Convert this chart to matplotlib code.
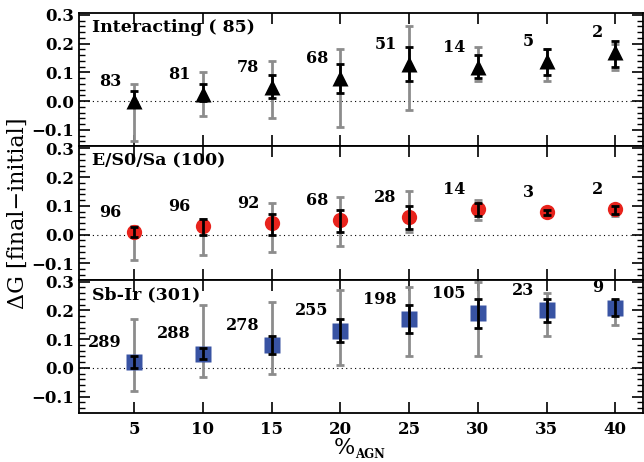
import numpy as np
import matplotlib
matplotlib.use("Agg")
import matplotlib.pyplot as plt
from matplotlib.ticker import MultipleLocator

# %AGN bins
agn = [5, 10, 15, 20, 25, 30, 35, 40]

# Interacting
int_mean = [0.00, 0.025, 0.05, 0.08, 0.13, 0.12, 0.14, 0.17]
int_blo = [-0.01, 0.00, 0.01, 0.03, 0.07, 0.08, 0.09, 0.12]
int_bhi = [0.035, 0.06, 0.09, 0.13, 0.19, 0.16, 0.18, 0.21]
int_glo = [-0.14, -0.05, -0.06, -0.09, -0.03, 0.07, 0.07, 0.11]
int_ghi = [0.06, 0.10, 0.14, 0.18, 0.26, 0.19, 0.18, 0.20]
int_n = [83, 81, 78, 68, 51, 14, 5, 2]

# E/S0/Sa
ear_mean = [0.01, 0.03, 0.04, 0.05, 0.06, 0.09, 0.08, 0.09]
ear_blo = [-0.01, 0.00, 0.00, 0.01, 0.02, 0.065, 0.068, 0.07]
ear_bhi = [0.025, 0.055, 0.07, 0.085, 0.10, 0.11, 0.086, 0.10]
ear_glo = [-0.09, -0.07, -0.06, -0.04, 0.01, 0.05, 0.068, 0.065]
ear_ghi = [0.03, 0.055, 0.11, 0.13, 0.15, 0.12, 0.088, 0.10]
ear_n = [96, 96, 92, 68, 28, 14, 3, 2]

# Sb-Ir
late_mean = [0.02, 0.05, 0.08, 0.13, 0.17, 0.19, 0.20, 0.21]
late_blo = [0.00, 0.03, 0.05, 0.09, 0.12, 0.14, 0.16, 0.18]
late_bhi = [0.04, 0.07, 0.11, 0.17, 0.22, 0.24, 0.24, 0.24]
late_glo = [-0.08, -0.03, -0.02, 0.01, 0.04, 0.04, 0.11, 0.15]
late_ghi = [0.17, 0.22, 0.23, 0.27, 0.28, 0.30, 0.26, 0.235]
late_n = [289, 288, 278, 255, 198, 105, 23, 9]

titles = ["Interacting ( 85)", "E/S0/Sa (100)", "Sb-Ir (301)"]

plt.rcParams['font.family'] = 'DejaVu Serif'

fig, axes = plt.subplots(3, 1, figsize=(6.44, 4.62), dpi=100, sharex=True)
fig.subplots_adjust(left=0.123, right=0.998, top=0.972, bottom=0.106, hspace=0)

panels = [
    (int_mean, int_blo, int_bhi, int_glo, int_ghi, int_n, dict(marker='^', color='black', ms=11)),
    (ear_mean, ear_blo, ear_bhi, ear_glo, ear_ghi, ear_n, dict(marker='o', color='#e8231c', ms=11)),
    (late_mean, late_blo, late_bhi, late_glo, late_ghi, late_n, dict(marker='s', color='#3853a3', ms=11)),
]

x = np.array(agn)
for ax, (m, blo, bhi, glo, ghi, n, mk), title in zip(axes, panels, titles):
    m = np.array(m)
    # grey (outer) error bars
    ax.errorbar(x, m, yerr=[m - np.array(glo), np.array(ghi) - m], fmt='none',
                ecolor='#8c8c8c', elinewidth=2, capsize=2.8, capthick=2, zorder=2)
    ax.plot(x, m, linestyle='none', mec='none', zorder=3, **mk)
    # black (inner) error bars
    ax.errorbar(x, m, yerr=[m - np.array(blo), np.array(bhi) - m], fmt='none',
                ecolor='black', elinewidth=2, capsize=3, capthick=2, zorder=4)
    for xi, mi, ni in zip(x, m, n):
        ax.text(xi - 0.9, mi + 0.068, str(ni), ha='right', va='center',
                fontsize=11.5, fontweight='bold')
    ax.axhline(0, color='black', linestyle=(0, (1, 3)), linewidth=0.8, zorder=1)
    ax.text(1.9, 0.255, title, ha='left', va='center', fontsize=12.5, fontweight='bold')
    ax.set_xlim(1, 42)
    ax.set_ylim(-0.157, 0.307)
    ax.yaxis.set_major_locator(MultipleLocator(0.1))
    ax.yaxis.set_minor_locator(MultipleLocator(0.02))
    ax.xaxis.set_major_locator(MultipleLocator(5))
    ax.tick_params(which='both', direction='in', top=True, right=True, labelsize=12)
    ax.tick_params(which='major', length=8, width=1.2)
    ax.tick_params(which='minor', length=4, width=1)
    ax.tick_params(axis='x', pad=6)
    for s in ax.spines.values():
        s.set_linewidth(1.3)
    ax.set_yticks([-0.1, 0.0, 0.1, 0.2, 0.3])
    ax.set_yticklabels(['\u22120.1', '0.0', '0.1', '0.2', '0.3'])
    for lbl in ax.get_yticklabels() + ax.get_xticklabels():
        lbl.set_fontweight('bold')

axes[-1].set_xticks(agn)
fig.text(0.028, 0.539, "\u0394G [final\u2212initial]", rotation=90, ha='center', va='center',
         fontsize=16)
fig.text(0.551, 0.018, "%", ha='right', va='baseline', fontsize=16)
fig.text(0.552, 0.009, "AGN", ha='left', va='baseline', fontsize=8.5, fontweight='bold')

fig.savefig("out.png", dpi=100)
